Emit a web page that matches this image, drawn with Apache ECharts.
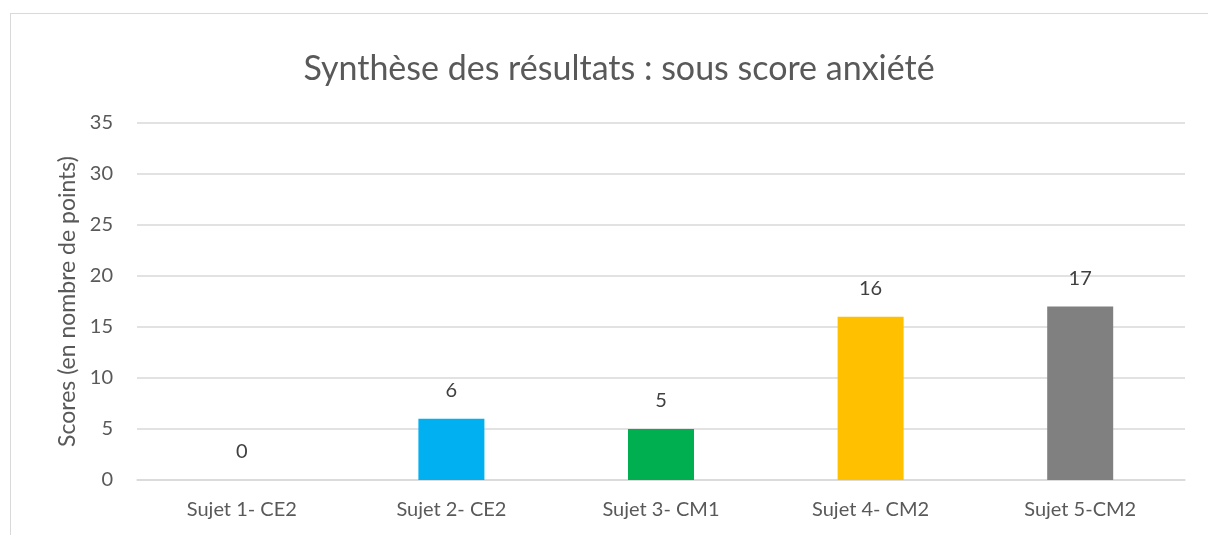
<!DOCTYPE html>
<html>
<head>
<meta charset="utf-8">
<script src="https://cdn.jsdelivr.net/npm/echarts@6/dist/echarts.min.js"></script>
<style>
  html, body { margin: 0; padding: 0; background: #fff; }
  #frame { position: absolute; left: 10px; top: 13px; width: 1300px; height: 600px; border: 1px solid #d9d9d9; }
  #chart { position: absolute; left: 0; top: 0; width: 1208px; height: 535px; }
</style>
</head>
<body>
<div id="frame"></div>
<div id="chart"></div>
<script>
  // categories and values
  var categories = ['Sujet 1- CE2', 'Sujet 2- CE2', 'Sujet 3- CM1', 'Sujet 4- CM2', 'Sujet 5-CM2'];
  var scores = [0, 6, 5, 16, 17];
  var barColors = ['#4472C4', '#00B0F0', '#00B050', '#FFC000', '#808080'];

  var fontFam = 'Lato, "Open Sans", sans-serif';
  var chart = echarts.init(document.getElementById('chart'));

  var seriesData = [];
  for (var i = 0; i < scores.length; i++) {
    seriesData.push({ value: scores[i], itemStyle: { color: barColors[i] } });
  }

  chart.setOption({
    animation: false,
    title: {
      text: 'Synthèse des résultats : sous score anxiété',
      left: 614,
      top: 47,
      textAlign: 'center',
      textStyle: { color: '#595959', fontSize: 34, fontWeight: 'normal', fontFamily: fontFam }
    },
    grid: { left: 137, right: 23, top: 123, bottom: 55 },
    xAxis: {
      type: 'category',
      data: categories,
      axisLine: { lineStyle: { color: '#d9d9d9', width: 1.5 } },
      axisTick: { show: false },
      axisLabel: { color: '#595959', fontSize: 20, fontFamily: fontFam, margin: 20 }
    },
    yAxis: {
      type: 'value',
      min: 0,
      max: 35,
      interval: 5,
      name: 'Scores (en nombre de points)',
      nameLocation: 'middle',
      nameGap: 58,
      nameTextStyle: { color: '#595959', fontSize: 23, fontFamily: fontFam },
      axisLine: { show: false },
      axisTick: { show: false },
      axisLabel: { color: '#595959', fontSize: 20, fontFamily: fontFam, margin: 24 },
      splitLine: { lineStyle: { color: '#d9d9d9', width: 1.5 } }
    },
    series: [{
      type: 'bar',
      data: seriesData,
      barWidth: 66,
      label: {
        show: true,
        position: 'top',
        distance: 18,
        color: '#404040',
        fontSize: 20,
        fontFamily: fontFam
      }
    }]
  });
</script>
</body>
</html>
